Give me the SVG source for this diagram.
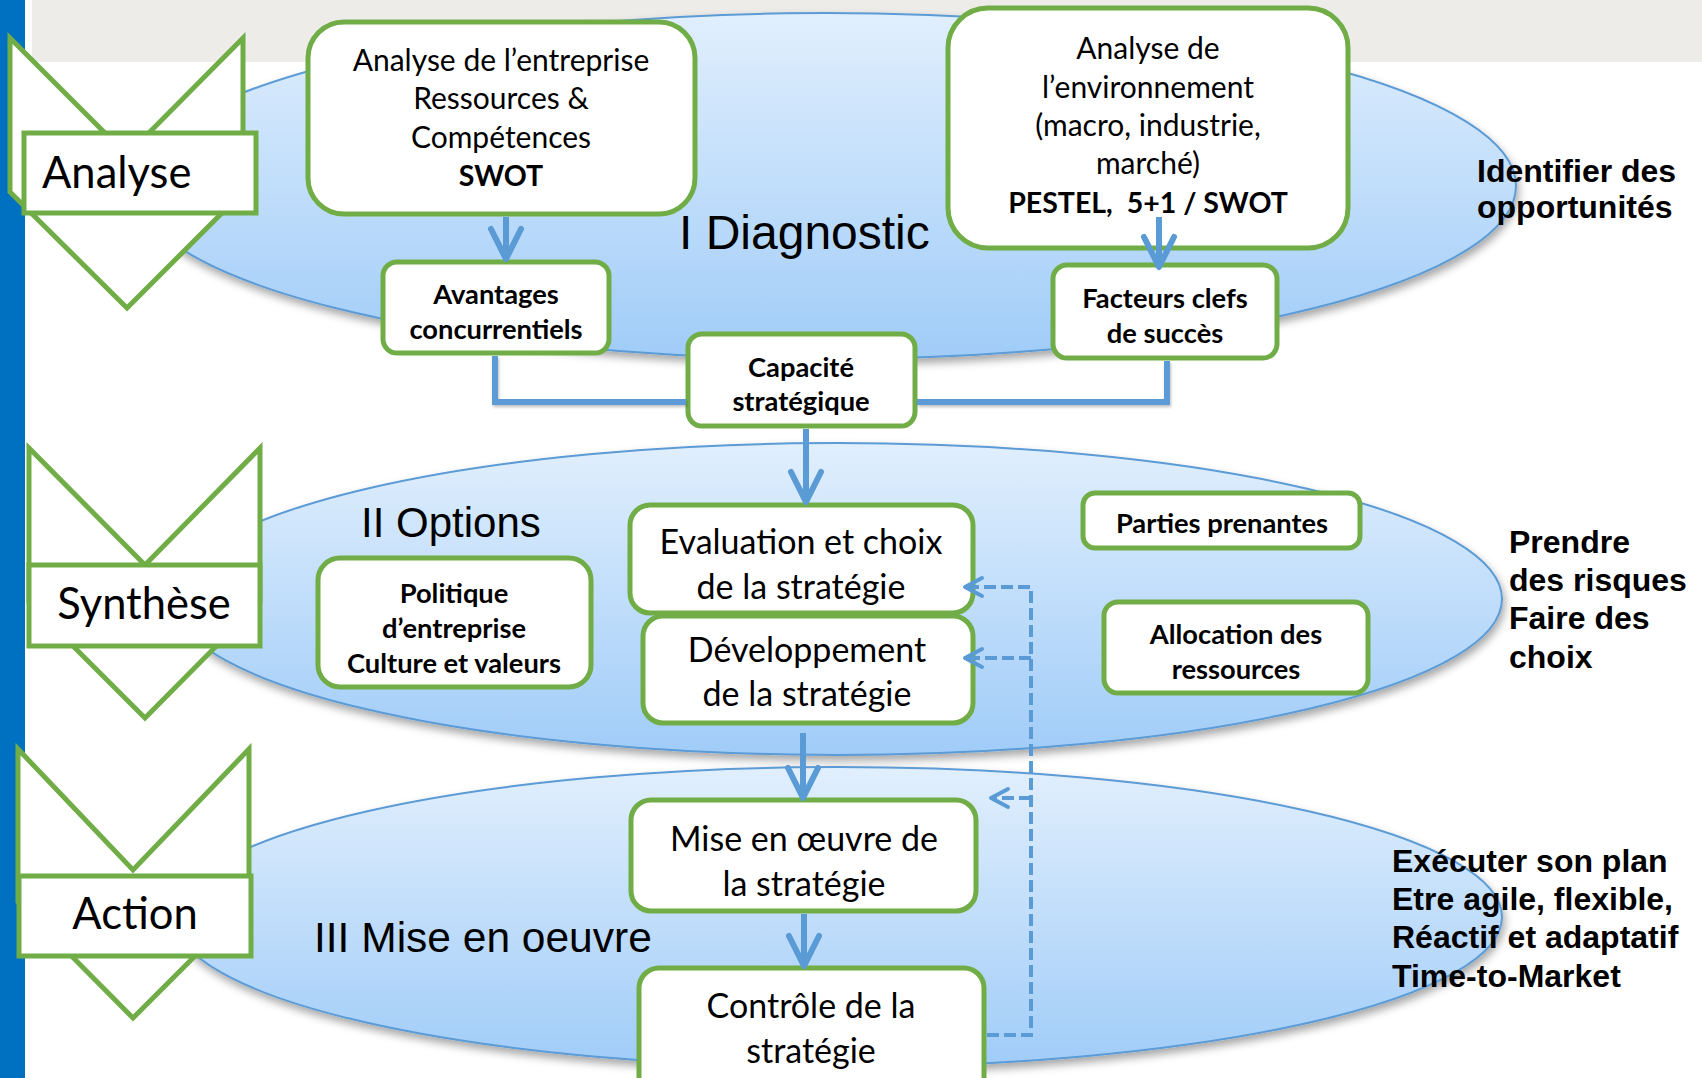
<svg xmlns="http://www.w3.org/2000/svg" width="1702" height="1078" viewBox="0 0 1702 1078">
<defs>
<linearGradient id="ellGrad" x1="0" y1="0" x2="0" y2="1">
<stop offset="0" stop-color="#e1effd"/>
<stop offset="1" stop-color="#a0ccf8"/>
</linearGradient>
<filter id="shadow" x="-10%" y="-10%" width="120%" height="130%">
<feDropShadow dx="2" dy="5" stdDeviation="4" flood-color="#000" flood-opacity="0.35"/>
</filter>
<filter id="lshadow" x="-20%" y="-20%" width="140%" height="140%">
<feDropShadow dx="1" dy="2" stdDeviation="1.5" flood-color="#000" flood-opacity="0.25"/>
</filter>
<marker id="arrow" markerUnits="userSpaceOnUse" viewBox="-34 -20 40 40" refX="0" refY="0" markerWidth="40" markerHeight="40" orient="auto">
<path d="M-30,-15 L0,0 L-30,15" fill="none" stroke="#5b9bd5" stroke-width="6" stroke-linecap="round" stroke-linejoin="round"/>
</marker>
<marker id="darrow" markerUnits="userSpaceOnUse" viewBox="-22 -14 28 28" refX="0" refY="0" markerWidth="28" markerHeight="28" orient="auto">
<path d="M-17,-9 L0,0 L-17,9" fill="none" stroke="#5b9bd5" stroke-width="4" stroke-linecap="round" stroke-linejoin="round"/>
</marker>
</defs>
<style>
.ell{fill:url(#ellGrad);stroke:#5b9bd5;stroke-width:2;filter:url(#shadow)}
.chev{fill:#fff;stroke:#70ad47;stroke-width:5;stroke-linejoin:miter}
.lbox{fill:#fff;stroke:#70ad47;stroke-width:5}
.box{fill:#fff;stroke:#70ad47;stroke-width:5}
.lab{font-family:Lato,"Open Sans",sans-serif;font-size:43.5px;fill:#000}
.t{font-family:Lato,"Open Sans",sans-serif;font-size:30px;fill:#000;text-anchor:middle}
.tbb{font-family:Lato,"Open Sans",sans-serif;font-size:28.5px;font-weight:bold;fill:#000;text-anchor:middle}
.tb{font-family:Lato,"Open Sans",sans-serif;font-size:27.3px;font-weight:bold;fill:#000;text-anchor:middle}
.tm{font-family:Lato,"Open Sans",sans-serif;font-size:34px;fill:#000;text-anchor:middle}
.sec{font-family:"Liberation Sans",Arial,sans-serif;fill:#000}
.side{font-family:"Liberation Sans",Arial,sans-serif;font-size:32px;font-weight:bold;fill:#000}
.conn{fill:none;stroke:#5b9bd5;stroke-width:6}
.dash{fill:none;stroke:#5b9bd5;stroke-width:4;stroke-dasharray:12 5}
</style>
<rect x="0" y="0" width="1702" height="1078" fill="#fff"/>
<rect x="32" y="0" width="1670" height="62" fill="#eeece8"/>
<rect x="0" y="0" width="25" height="1078" fill="#0070c0"/>

<g id="ellipses">
<ellipse id="ellipse-diagnostic" class="ell" cx="825" cy="186" rx="691" ry="173"/>
<ellipse id="ellipse-options" class="ell" cx="837" cy="599" rx="665" ry="156"/>
<ellipse id="ellipse-action" class="ell" cx="838" cy="917" rx="664" ry="150"/>
</g>

<g id="stage-analyse">
<polygon class="chev" points="10,38 127,155 243,38 243,192 127,308 10,192"/>
<rect class="lbox" x="24" y="133" width="232" height="80"/>
<text class="lab" x="42" y="188">Analyse</text>
</g>
<g id="stage-synthese">
<polygon class="chev" points="29,448 145,565 260,448 260,602 145,718 29,602"/>
<rect class="lbox" x="29" y="565" width="231" height="81"/>
<text class="lab" x="144" y="619" text-anchor="middle">Synthèse</text>
</g>
<g id="stage-action">
<polygon class="chev" points="18,749 133,870 249,749 249,902 133,1018 18,902"/>
<rect class="lbox" x="19" y="876" width="232" height="80"/>
<text class="lab" x="135" y="929" text-anchor="middle">Action</text>
</g>

<g id="section-titles">
<text class="sec" x="679" y="249" font-size="48">I Diagnostic</text>
<text class="sec" x="361" y="537" font-size="42">II Options</text>
<text class="sec" x="314" y="952" font-size="42.5">III Mise en oeuvre</text>
</g>

<g id="node-entreprise">
<rect class="box" x="308" y="22" width="387" height="192" rx="36"/>
<text class="t" x="501" y="71">Analyse de l’entreprise</text>
<text class="t" x="501" y="109">Ressources &amp;</text>
<text class="t" x="501" y="148">Compétences</text>
<text class="tbb" x="501" y="186">SWOT</text>
</g>
<g id="node-environnement">
<rect class="box" x="948" y="8" width="400" height="240" rx="40"/>
<text class="t" x="1148" y="59">Analyse de</text>
<text class="t" x="1148" y="98">l’environnement</text>
<text class="t" x="1148" y="136">(macro, industrie,</text>
<text class="t" x="1148" y="174">marché)</text>
<text class="tbb" x="1148" y="213">PESTEL,&#160; 5+1 / SWOT</text>
</g>
<g id="node-avantages">
<rect class="box" x="383" y="262" width="226" height="91" rx="14"/>
<text class="tb" x="496" y="304">Avantages</text>
<text class="tb" x="496" y="339">concurrentiels</text>
</g>
<g id="node-facteurs">
<rect class="box" x="1053" y="265" width="224" height="93" rx="14"/>
<text class="tb" x="1165" y="308">Facteurs clefs</text>
<text class="tb" x="1165" y="343">de succès</text>
</g>
<g id="node-capacite">
<rect class="box" x="688" y="334" width="227" height="92" rx="14"/>
<text class="tb" x="801" y="377">Capacité</text>
<text class="tb" x="801" y="411">stratégique</text>
</g>
<g id="node-politique">
<rect class="box" x="318" y="558" width="273" height="129" rx="22"/>
<text class="tb" x="454" y="603">Politique</text>
<text class="tb" x="454" y="638">d’entreprise</text>
<text class="tb" x="454" y="673">Culture et valeurs</text>
</g>
<g id="node-evaluation">
<rect class="box" x="630" y="505" width="343" height="108" rx="20"/>
<text class="tm" x="801" y="554">Evaluation et choix</text>
<text class="tm" x="801" y="599">de la stratégie</text>
</g>
<g id="node-developpement">
<rect class="box" x="643" y="616" width="330" height="107" rx="20"/>
<text class="tm" x="807" y="662">Développement</text>
<text class="tm" x="807" y="706">de la stratégie</text>
</g>
<g id="node-parties">
<rect class="box" x="1083" y="493" width="277" height="55" rx="12"/>
<text class="tb" x="1222" y="533">Parties prenantes</text>
</g>
<g id="node-allocation">
<rect class="box" x="1104" y="602" width="264" height="91" rx="14"/>
<text class="tb" x="1236" y="644">Allocation des</text>
<text class="tb" x="1236" y="679">ressources</text>
</g>
<g id="node-mise">
<rect class="box" x="631" y="800" width="345" height="111" rx="20"/>
<text class="tm" x="804" y="851">Mise en œuvre de</text>
<text class="tm" x="804" y="896">la stratégie</text>
</g>
<g id="node-controle">
<rect class="box" x="639" y="968" width="345" height="130" rx="20"/>
<text class="tm" x="811" y="1018">Contrôle de la</text>
<text class="tm" x="811" y="1063">stratégie</text>
</g>

<g id="connectors">
<polyline class="conn" filter="url(#lshadow)" points="495,356 495,402 686,402"/>
<polyline class="conn" filter="url(#lshadow)" points="1167,361 1167,402 917,402"/>
<line class="conn" x1="506" y1="217" x2="506" y2="259" marker-end="url(#arrow)"/>
<line class="conn" x1="1159" y1="217" x2="1159" y2="267" marker-end="url(#arrow)"/>
<line class="conn" x1="806" y1="429" x2="806" y2="502" marker-end="url(#arrow)"/>
<line class="conn" x1="803" y1="733" x2="803" y2="798" marker-end="url(#arrow)"/>
<line class="conn" x1="804" y1="914" x2="804" y2="966" marker-end="url(#arrow)"/>
<path class="dash" d="M987,1035 H1031 V587 H965" marker-end="url(#darrow)"/>
<path class="dash" d="M1031,658 H965" marker-end="url(#darrow)"/>
<path class="dash" d="M1031,798 H991" marker-end="url(#darrow)"/>
</g>

<g id="side-notes">
<text class="side" x="1477" y="182">Identifier des</text>
<text class="side" x="1477" y="218">opportunités</text>
<text class="side" x="1509" y="553">Prendre</text>
<text class="side" x="1509" y="591">des risques</text>
<text class="side" x="1509" y="629">Faire des</text>
<text class="side" x="1509" y="668">choix</text>
<text class="side" x="1392" y="872">Exécuter son plan</text>
<text class="side" x="1392" y="910">Etre agile, flexible,</text>
<text class="side" x="1392" y="948">Réactif et adaptatif</text>
<text class="side" x="1392" y="987">Time-to-Market</text>
</g>
</svg>
